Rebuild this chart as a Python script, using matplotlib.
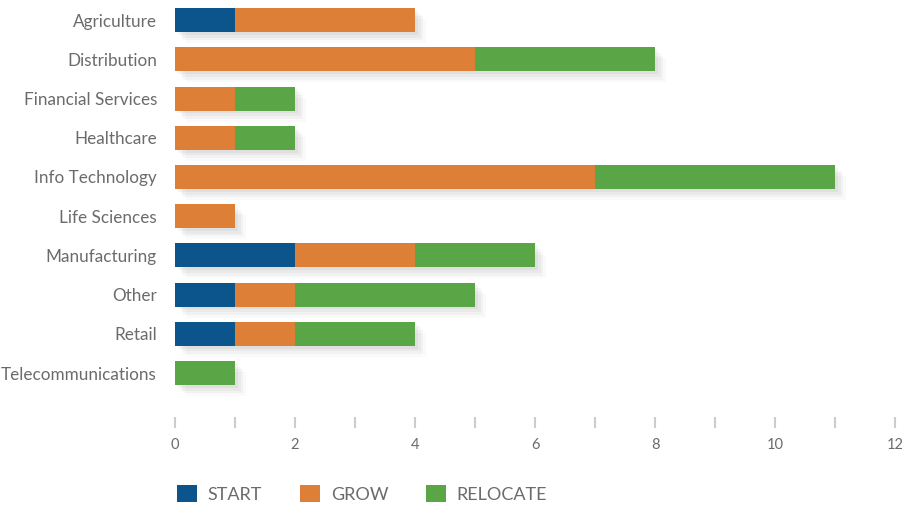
import matplotlib
matplotlib.use('Agg')
import matplotlib.pyplot as plt
from matplotlib.patches import Patch
import matplotlib.patheffects as pe
import numpy as np

categories = ['Agriculture', 'Distribution', 'Financial Services', 'Healthcare',
              'Info Technology', 'Life Sciences', 'Manufacturing', 'Other',
              'Retail', 'Telecommunications']
start = [1, 0, 0, 0, 0, 0, 2, 1, 1, 0]
grow = [3, 5, 1, 1, 7, 1, 2, 1, 1, 0]
relocate = [0, 3, 1, 1, 4, 0, 2, 3, 2, 1]
series_names = ['START', 'GROW', 'RELOCATE']
colors = ['#0b548c', '#de7f38', '#5aa546']
x_ticks = [0, 2, 4, 6, 8, 10, 12]

plt.rcParams['font.family'] = ['Lato', 'DejaVu Sans']
text_color = '#6b6b6b'

fig = plt.figure(figsize=(9.02, 5.08), dpi=100)
ax = fig.add_axes([175 / 902, 1 - 417 / 508, 720 / 902, (417 - 0.5) / 508])

y = np.arange(len(categories))
shadow = [pe.SimplePatchShadow(offset=(d, -d), shadow_rgbFace='#000000', alpha=a)
          for d, a in [(8, 0.02), (6, 0.03), (4, 0.035), (2, 0.04)]] + [pe.Normal()]

left = np.zeros(len(categories))
for vals, name, col in zip([start, grow, relocate], series_names, colors):
    vals = np.array(vals, dtype=float)
    mask = vals > 0
    ax.barh(y[mask], vals[mask], left=left[mask], height=0.61, color=col, zorder=2)
    left += vals

# shadow behind whole stacked bar
for yi, tot in zip(y, left):
    ax.barh(yi, tot, height=0.61, color='white', zorder=1, path_effects=shadow)

ax.set_xlim(0, 12)
ax.set_ylim(len(categories) - 1 + 1.12, -0.5)
ax.set_yticks(y)
ax.set_yticklabels(categories)
ax.set_xticks(x_ticks)
ax.set_xticklabels([str(t) for t in x_ticks])
ax.set_xticks(range(0, 13), minor=True)
for s in ax.spines.values():
    s.set_visible(False)
ax.tick_params(axis='y', length=0, pad=13, labelsize=12.3, labelcolor=text_color)
ax.tick_params(axis='x', which='both', direction='out', length=8, width=1.5,
               color='#cccccc', pad=7, labelsize=10.5, labelcolor=text_color)

handles = [Patch(facecolor=c, label=n) for c, n in zip(colors, series_names)]
fig.legend(handles=handles, loc='center left', bbox_to_anchor=(177 / 902, 1 - 494 / 508),
           ncol=3, frameon=False, handlelength=1.1, handleheight=1.1,
           borderpad=0, borderaxespad=0,
           columnspacing=2.1, handletextpad=0.6, fontsize=13, labelcolor=text_color)

fig.savefig('out.png', dpi=100)
